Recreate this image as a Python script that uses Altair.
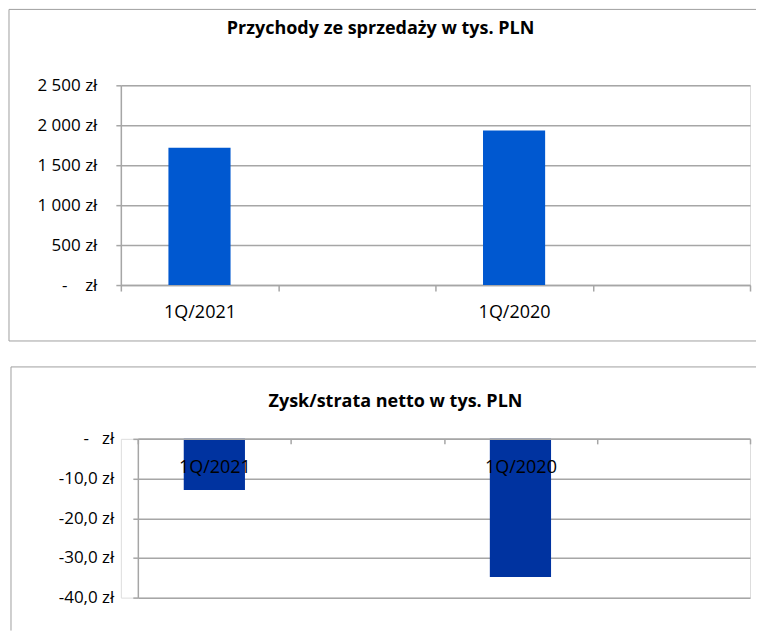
import altair as alt
import pandas as pd

# ---- data ----
categories = ["1Q/2021", "", "1Q/2020", " "]
revenue = [1720, None, 1935, None]          # tys. PLN
net_result = [-12.9, None, -34.8, None]    # tys. PLN

title_top = "Przychody ze sprzedaży w tys. PLN"
title_bottom = "Zysk/strata netto w tys. PLN"
rev_ticks = [0, 500, 1000, 1500, 2000, 2500]
net_ticks = [0, -10, -20, -30, -40]

FONT = "Open Sans"
GRID = "#A6A6A6"
BORDER = "#A0A0A0"

df_top = pd.DataFrame({"cat": categories, "value": revenue})
df_bot = pd.DataFrame({"cat": categories, "value": net_result})
one = pd.DataFrame({"k": [0]})


def hrule(x1, x2, y):
    return alt.Chart(one).mark_rule(color=BORDER, strokeWidth=1).encode(
        x=alt.value(x1), x2=alt.value(x2), y=alt.value(y))


def vrule(x, y1, y2):
    return alt.Chart(one).mark_rule(color=BORDER, strokeWidth=1).encode(
        x=alt.value(x), y=alt.value(y1), y2=alt.value(y2))


def title_text(text, x, y):
    return alt.Chart(one).mark_text(
        font=FONT, fontSize=18, fontWeight="bold", color="black",
        align="center", baseline="alphabetic"
    ).encode(x=alt.value(x), y=alt.value(y), text=alt.value(text))


W = 630
RIGHT = 636

# ---- top chart ----
H1 = 200
top_bars = alt.Chart(df_top).mark_bar(
    color="#0058D0", width=alt.RelativeBandSize(0.395)
).encode(
    x=alt.X("cat:N", sort=categories,
            scale=alt.Scale(domain=categories, paddingInner=0, paddingOuter=0),
            axis=alt.Axis(title=None, labelAngle=0, tickBand="extent", tickSize=6,
                          tickColor=GRID, domainColor=GRID, domainWidth=1.5, tickWidth=1.5,
                          labelPadding=12, labelFontSize=18, labelFont=FONT,
                          labelColor="black", grid=False)),
    y=alt.Y("value:Q", scale=alt.Scale(domain=[0, 2500], nice=False, zero=True),
            axis=alt.Axis(title=None, values=rev_ticks, grid=True, gridColor=GRID,
                          gridWidth=1.5, tickSize=5, tickColor=GRID, tickWidth=1.5,
                          domainColor=GRID, domainWidth=1.5,
                          labelPadding=19, labelFontSize=17, labelFont=FONT,
                          labelColor="black",
                          labelExpr="datum.value == 0 ? '-\u00a0\u00a0\u00a0\u00a0zł' : replace(format(datum.value, ',.0f'), ',', '\u00a0') + '\u00a0zł'")),
)

top = alt.layer(
    hrule(-112, RIGHT, -76), vrule(-112, -76, 256), hrule(-112, RIGHT, 256),
    title_text(title_top, 260, -51),
    top_bars,
).properties(width=W, height=H1)

# ---- bottom chart ----
H2 = 159
SHIFT = 17
bot_bars = alt.Chart(df_bot).mark_bar(
    color="#0033A0", width=alt.RelativeBandSize(0.4)
).encode(
    x=alt.X("cat:N", sort=categories,
            scale=alt.Scale(domain=categories, paddingInner=0, paddingOuter=0,
                            range=[SHIFT, W]),
            axis=alt.Axis(title=None, labelAngle=0, tickBand="extent", tickSize=5,
                          orient="bottom", offset=-H2, zindex=1,
                          tickColor=GRID, domainColor=GRID, domainWidth=1.5, tickWidth=1.5,
                          labelPadding=15, labelFontSize=18, labelFont=FONT,
                          labelColor="black", grid=False)),
    y=alt.Y("value:Q", scale=alt.Scale(domain=[-40, 0], nice=False),
            axis=alt.Axis(title=None, values=net_ticks, grid=True, gridColor=GRID,
                          gridWidth=1.5, tickSize=5, tickColor=GRID, tickWidth=1.5,
                          domainColor=GRID, domainWidth=1.5, offset=-SHIFT,
                          labelPadding=19, labelFontSize=17, labelFont=FONT,
                          labelColor="black",
                          labelExpr="datum.value == 0 ? '-\u00a0\u00a0\u00a0zł' : '-' + replace(format(abs(datum.value), '.1f'), '.', ',') + '\u00a0zł'")),
)

bottom = alt.layer(
    hrule(-110, RIGHT, -72), vrule(-110, -72, 192),
    title_text(title_bottom, 275, -32),
    bot_bars,
).properties(width=W, height=H2)

chart = alt.vconcat(top, bottom, spacing=24).resolve_scale(
    x="independent", y="independent"
).properties(padding=0).configure_view(
    stroke=None
).configure(background="white")

chart.save("out.html", embed_options={"renderer": "svg", "actions": False})
